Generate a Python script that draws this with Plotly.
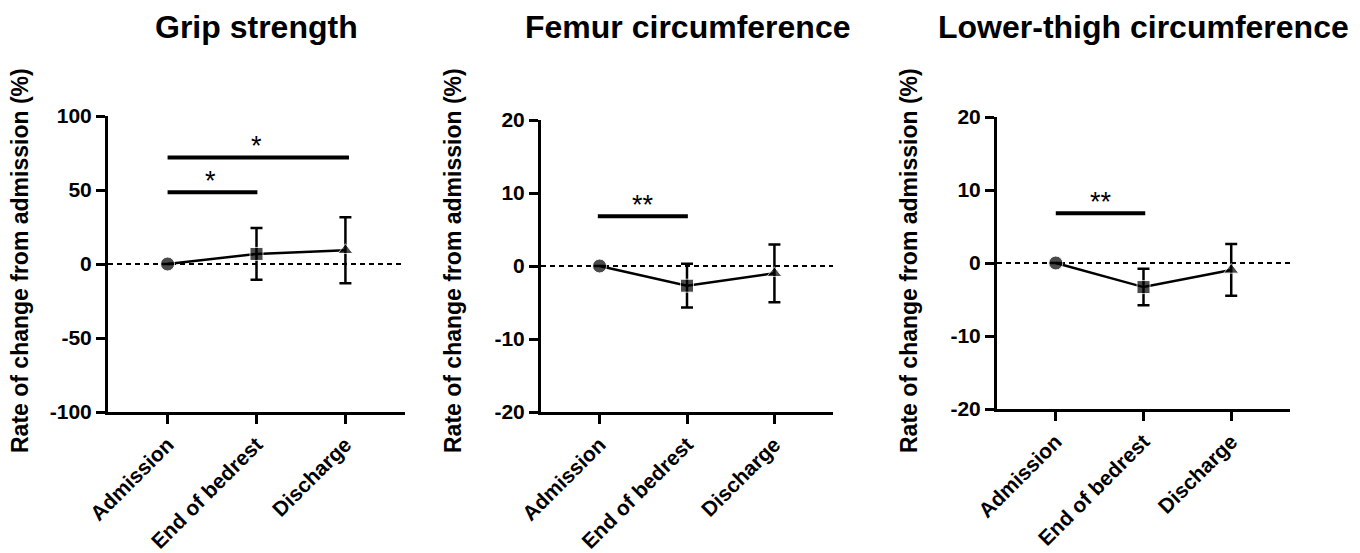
import plotly.graph_objects as go

# page body has an 8px margin; compensate so the figure lines up with the window
OFF = 8
W, H = 1360 - OFF, 553 - OFF

categories = ["Admission", "End of bedrest", "Discharge"]
titles = ["Grip strength", "Femur circumference", "Lower-thigh circumference"]

grip_mean = [0, 6.8, 9.3]
grip_sd = [0, 17.5, 22.3]
femur_mean = [0, -2.7, -1.0]
femur_sd = [0, 3.0, 3.96]
thigh_mean = [0, -3.3, -0.95]
thigh_sd = [0, 2.5, 3.55]

means = [grip_mean, femur_mean, thigh_mean]
sds = [grip_sd, femur_sd, thigh_sd]

y_ranges = [[-100, 100], [-20, 20], [-20, 20]]
y_ticks = [[-100, -50, 0, 50, 100], [-20, -10, 0, 10, 20], [-20, -10, 0, 10, 20]]
y_ticktext = [["-100", "-50", "0", "50", "100"], ["-20", "-10", "0", "10", "20"],
              ["-20", "-10", "0", "10", "20"]]

# significance brackets: (x0, x1, y, label, label_x)
sig_bars = [
    [(0, 2.04, 72, "*", 1.0), (0, 1.01, 48.5, "*", 0.48)],
    [(-0.02, 1.01, 6.8, "**", 0.5)],
    [(0, 1.02, 6.8, "**", 0.52)],
]

marker_symbols = ["circle", "square", "triangle-up"]

# pixel layout of plot areas (window coordinates)
x_px = [(108, 405), (541, 833), (997, 1290)]
y_px = [(116, 412), (120, 412), (117, 409)]


def px_x(v):
    return (v - OFF) / W


def px_y(v):
    return 1 - (v - OFF) / H


FONT = "Liberation Sans, Arial, Helvetica, sans-serif"

fig = go.Figure()
shapes = []
annotations = []

for i in range(3):
    xa = "x" if i == 0 else f"x{i+1}"
    ya = "y" if i == 0 else f"y{i+1}"
    xkey = "xaxis" if i == 0 else f"xaxis{i+1}"
    ykey = "yaxis" if i == 0 else f"yaxis{i+1}"

    fig.add_trace(go.Scatter(
        x=[0, 1, 2], y=means[i], xaxis=xa, yaxis=ya,
        mode="lines+markers",
        line=dict(color="black", width=2.5),
        marker=dict(symbol=marker_symbols, size=[14, 13, 13], color="black"),
        error_y=dict(type="data", array=sds[i], color="black", thickness=2.5, width=6),
        showlegend=False, cliponaxis=False,
    ))

    x0p, x1p = x_px[i]
    y0p, y1p = y_px[i]
    fig.layout[xkey] = dict(
        domain=[px_x(x0p), px_x(x1p)], range=[-0.67, 2.67],
        anchor=ya, tickmode="array", tickvals=[0, 1, 2], ticktext=categories,
        tickangle=-45, ticks="outside", ticklen=9, tickwidth=3, tickcolor="black",
        showline=True, linecolor="black", linewidth=3, showgrid=False, zeroline=False,
        tickfont=dict(family=FONT, size=21, color="black", weight="bold"),
        fixedrange=True, automargin=False,
    )
    fig.layout[ykey] = dict(
        domain=[px_y(y1p), px_y(y0p)], range=y_ranges[i],
        anchor=xa, tickmode="array", tickvals=y_ticks[i], ticktext=y_ticktext[i],
        ticks="outside", ticklen=9, tickwidth=3, tickcolor="black",
        showline=True, linecolor="black", linewidth=3, showgrid=False, zeroline=False,
        tickfont=dict(family=FONT, size=21, color="black", weight="bold"),
        fixedrange=True, automargin=False,
    )

    # dashed zero line
    shapes.append(dict(type="line", xref=f"{xa} domain", yref=ya, x0=0, x1=1, y0=0, y1=0,
                       line=dict(color="black", width=2, dash="5px,4px"), layer="below"))

    for (bx0, bx1, by, lab, lx) in sig_bars[i]:
        shapes.append(dict(type="line", xref=xa, yref=ya, x0=bx0, x1=bx1, y0=by, y1=by,
                           line=dict(color="black", width=4)))
        annotations.append(dict(x=lx, y=by, xref=xa, yref=ya,
                                text=lab, showarrow=False, yanchor="bottom", yshift=-6,
                                font=dict(family=FONT, size=27, color="black")))

    cx = px_x((x0p + x1p) / 2)
    annotations.append(dict(x=cx, y=px_y(27), xref="paper", yref="paper",
                            text=titles[i], showarrow=False, xanchor="center", yanchor="middle",
                            font=dict(family=FONT, size=32, color="black", weight="bold")))
    annotations.append(dict(x=px_x(x0p - 88), y=px_y(261), xref="paper", yref="paper",
                            text="Rate of change from admission (%)", textangle=-90,
                            showarrow=False, xanchor="center", yanchor="middle",
                            font=dict(family=FONT, size=23, color="black", weight="bold")))

fig.update_layout(
    width=W, height=H, margin=dict(l=0, r=0, t=0, b=0, autoexpand=False),
    paper_bgcolor="white", plot_bgcolor="white",
    shapes=shapes, annotations=annotations,
)

fig.write_html("out.html")
